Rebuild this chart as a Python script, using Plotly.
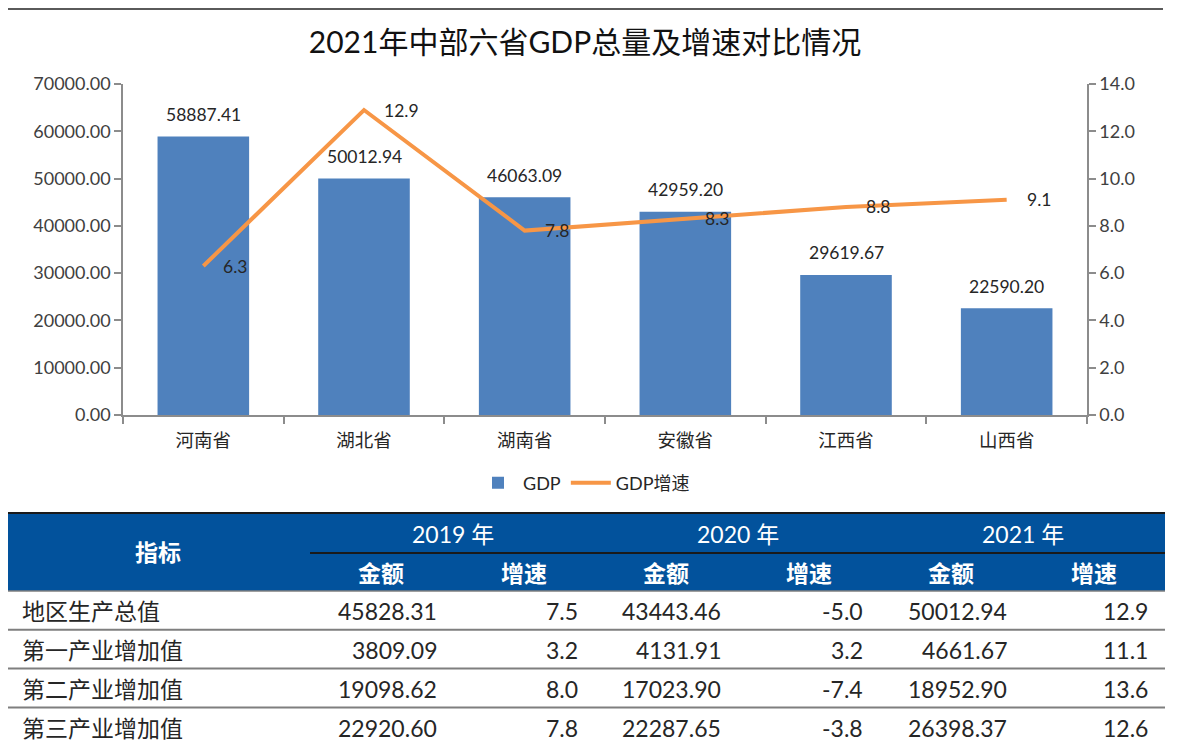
import plotly.graph_objects as go

# ---------------- data ----------------
provinces = ["河南省", "湖北省", "湖南省", "安徽省", "江西省", "山西省"]
gdp = [58887.41, 50012.94, 46063.09, 42959.20, 29619.67, 22590.20]
gdp_growth = [6.3, 12.9, 7.8, 8.3, 8.8, 9.1]

title_text = "2021年中部六省GDP总量及增速对比情况"

table_indicators = ["地区生产总值", "第一产业增加值", "第二产业增加值", "第三产业增加值"]
table_years = ["2019 年", "2020 年", "2021 年"]
amount_2019 = [45828.31, 3809.09, 19098.62, 22920.60]
growth_2019 = [7.5, 3.2, 8.0, 7.8]
amount_2020 = [43443.46, 4131.91, 17023.90, 22287.65]
growth_2020 = [-5.0, 3.2, -7.4, -3.8]
amount_2021 = [50012.94, 4661.67, 18952.90, 26398.37]
growth_2021 = [12.9, 11.1, 13.6, 12.6]

# ---------------- layout constants ----------------
OFF = 8                      # page body margin of the html page
W, H = 1177 - OFF, 745 - OFF
FONT = "Lato, 'Noto Sans CJK SC', sans-serif"
BAR_COLOR = "#4F81BD"
LINE_COLOR = "#F79646"
AXIS_COLOR = "#8C8C8C"
TEXT_COLOR = "#262626"
HEADER_BLUE = "#02529C"


def px(x):
    return (x - OFF) / W


def py(y):
    return 1 - (y - OFF) / H


fig = go.Figure()

fig.add_trace(go.Bar(
    x=provinces, y=gdp, name="GDP", marker=dict(color=BAR_COLOR, line=dict(width=0)),
    yaxis="y", hoverinfo="x+y",
))
fig.add_trace(go.Scatter(
    x=provinces, y=gdp_growth, name="GDP增速", mode="lines",
    line=dict(color=LINE_COLOR, width=4), yaxis="y2",
))

annotations = []
# bar value labels
for p, v in zip(provinces, gdp):
    annotations.append(dict(
        x=p, y=v, xref="x", yref="y", text=f"{v:.2f}", showarrow=False,
        yshift=22, xanchor="center", yanchor="middle",
        font=dict(family=FONT, size=17.5, color=TEXT_COLOR),
    ))
# line value labels
for p, v in zip(provinces, gdp_growth):
    annotations.append(dict(
        x=p, y=v, xref="x", yref="y2", text=f"{v:.1f}", showarrow=False,
        xshift=18, xanchor="left", yanchor="middle",
        font=dict(family=FONT, size=17.5, color=TEXT_COLOR),
    ))

shapes = []
# top rule
shapes.append(dict(type="line", xref="paper", yref="paper",
                   x0=px(6), x1=px(1163), y0=py(8.5), y1=py(8.5),
                   line=dict(color="#5A5A5A", width=3)))

# ---------------- table ----------------
T_LEFT, T_RIGHT = 6, 1165
LABEL_COL_R = 310
GROUP_W = (T_RIGHT - LABEL_COL_R) / len(table_years)
SUB_W = GROUP_W / 2
HDR_TOP, HDR_MID, HDR_BOT = 513, 553, 591
ROW_H = 38.8
TFONT = 23

shapes.append(dict(type="rect", xref="paper", yref="paper",
                   x0=px(T_LEFT), x1=px(T_RIGHT), y0=py(HDR_TOP), y1=py(HDR_BOT),
                   fillcolor=HEADER_BLUE, line=dict(width=0), layer="below"))
shapes.append(dict(type="line", xref="paper", yref="paper",
                   x0=px(T_LEFT), x1=px(T_RIGHT), y0=py(HDR_TOP), y1=py(HDR_TOP),
                   line=dict(color="#1A1A1A", width=2)))
shapes.append(dict(type="line", xref="paper", yref="paper",
                   x0=px(LABEL_COL_R), x1=px(T_RIGHT), y0=py(HDR_MID), y1=py(HDR_MID),
                   line=dict(color="#1A1A1A", width=2)))
shapes.append(dict(type="line", xref="paper", yref="paper",
                   x0=px(T_LEFT), x1=px(T_RIGHT), y0=py(HDR_BOT), y1=py(HDR_BOT),
                   line=dict(color="#7F7F7F", width=1.5)))

annotations.append(dict(
    x=px((T_LEFT + LABEL_COL_R) / 2), y=py((HDR_TOP + HDR_BOT) / 2), xref="paper", yref="paper",
    text="<b>指标</b>", showarrow=False, xanchor="center", yanchor="middle",
    font=dict(family=FONT, size=TFONT, color="white"),
))
for gi, yr in enumerate(table_years):
    g0 = LABEL_COL_R + gi * GROUP_W
    annotations.append(dict(
        x=px(g0 + GROUP_W / 2), y=py((HDR_TOP + HDR_MID) / 2 + 0.5), xref="paper", yref="paper",
        text=yr, showarrow=False, xanchor="center", yanchor="middle",
        font=dict(family=FONT, size=TFONT, color="white"),
    ))
    for si, sub in enumerate(["金额", "增速"]):
        annotations.append(dict(
            x=px(g0 + SUB_W * (si + 0.5)), y=py((HDR_MID + HDR_BOT) / 2 + 1), xref="paper", yref="paper",
            text=f"<b>{sub}</b>", showarrow=False, xanchor="center", yanchor="middle",
            font=dict(family=FONT, size=TFONT, color="white"),
        ))

amounts = [amount_2019, amount_2020, amount_2021]
growths = [growth_2019, growth_2020, growth_2021]
for ri, label in enumerate(table_indicators):
    top = HDR_BOT + ri * ROW_H
    yc = top + ROW_H / 2 + 1
    if ri > 0:
        shapes.append(dict(type="line", xref="paper", yref="paper",
                           x0=px(T_LEFT), x1=px(T_RIGHT), y0=py(top), y1=py(top),
                           line=dict(color="#7F7F7F", width=2)))
    annotations.append(dict(
        x=px(20), y=py(yc), xref="paper", yref="paper", text=label, showarrow=False,
        xanchor="left", yanchor="middle", font=dict(family=FONT, size=TFONT, color=TEXT_COLOR),
    ))
    for gi in range(len(table_years)):
        g0 = LABEL_COL_R + gi * GROUP_W
        annotations.append(dict(
            x=px(g0 + SUB_W - 14), y=py(yc), xref="paper", yref="paper",
            text=f"{amounts[gi][ri]:.2f}", showarrow=False, xanchor="right", yanchor="middle",
            font=dict(family=FONT, size=TFONT, color=TEXT_COLOR),
        ))
        annotations.append(dict(
            x=px(g0 + GROUP_W - 15), y=py(yc), xref="paper", yref="paper",
            text=f"{growths[gi][ri]:.1f}", showarrow=False, xanchor="right", yanchor="middle",
            font=dict(family=FONT, size=TFONT, color=TEXT_COLOR),
        ))

PLOT_L, PLOT_R, PLOT_T, PLOT_B = 123, 1087, 84, 415

axis_common = dict(
    showline=True, linecolor=AXIS_COLOR, linewidth=1.5,
    ticks="outside", ticklen=7, tickcolor=AXIS_COLOR, tickwidth=1.5,
    showgrid=False, zeroline=False, automargin=False,
    tickfont=dict(family=FONT, size=18, color="#404040"),
)

fig.update_layout(
    width=W, height=H, autosize=False,
    margin=dict(l=0, r=0, t=0, b=0, pad=0, autoexpand=False),
    paper_bgcolor="white", plot_bgcolor="white",
    font=dict(family=FONT, color=TEXT_COLOR),
    title=dict(text=title_text, x=px(585), y=py(42), xref="paper", yref="container",
               xanchor="center", yanchor="middle", automargin=False,
               font=dict(family=FONT, size=30, color="#111111")),
    bargap=0.43,
    xaxis=dict(
        domain=[px(PLOT_L), px(PLOT_R)], type="category", tickson="boundaries",
        showline=True, linecolor=AXIS_COLOR, linewidth=1.5,
        ticks="outside", ticklen=7, tickcolor=AXIS_COLOR, tickwidth=1.5,
        showgrid=False, ticklabelstandoff=8, automargin=False,
        tickfont=dict(family=FONT, size=18.5, color="#262626"),
    ),
    yaxis=dict(domain=[py(PLOT_B), py(PLOT_T)], range=[0, 70000], dtick=10000,
               tickformat=".2f", **axis_common),
    yaxis2=dict(overlaying="y", side="right", range=[0, 14], dtick=2,
                tickformat=".1f", anchor="x", **axis_common),
    legend=dict(orientation="h", x=px(584), y=py(483), xanchor="center", yanchor="middle",
                font=dict(family=FONT, size=18, color="#262626"), bgcolor="rgba(0,0,0,0)",
                itemwidth=40),
    showlegend=True,
    annotations=annotations,
    shapes=shapes,
)

fig.write_html("out.html")
